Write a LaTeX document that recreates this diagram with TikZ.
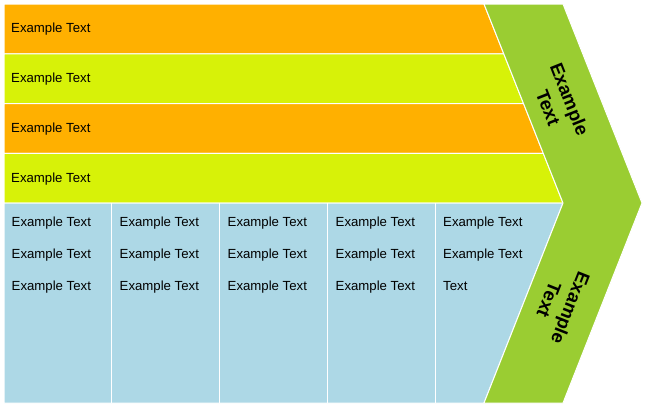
\documentclass[tikz,border=0pt]{standalone}
\usepackage{fontspec}
\setmainfont{Liberation Sans}
\definecolor{orangefill}{RGB}{255,176,0}
\definecolor{limefill}{RGB}{215,242,8}
\definecolor{greenfill}{RGB}{154,205,50}
\definecolor{bluefill}{RGB}{173,216,230}
\begin{document}
\begin{tikzpicture}[x=1pt,y=-1pt]
\tikzset{
  txt/.style={font=\fontsize{13.2}{15}\selectfont, anchor=base west, inner sep=0pt, text=black},
  big/.style={font=\bfseries\fontsize{18.5}{23}\selectfont, align=center, inner sep=0pt, text=black},
  sep/.style={draw=white, line width=1pt},
}
\fill[white] (0,0) rectangle (646,407);
\useasboundingbox (0,0) rectangle (646,407);
% rows
\filldraw[fill=orangefill, sep] (4,4) -- (484,4) -- (503.75,53.75) -- (4,53.75) -- cycle;
\filldraw[fill=limefill, sep] (4,53.75) -- (503.75,53.75) -- (523.5,103.5) -- (4,103.5) -- cycle;
\filldraw[fill=orangefill, sep] (4,103.5) -- (523.5,103.5) -- (543.25,153.25) -- (4,153.25) -- cycle;
\filldraw[fill=limefill, sep] (4,153.25) -- (543.25,153.25) -- (563,203) -- (4,203) -- cycle;
% bottom table
\filldraw[fill=bluefill, sep] (4,203) -- (563,203) -- (484,403) -- (4,403) -- cycle;
\foreach \x in {111.5,219.5,327.5,435.5}
  \draw[sep] (\x,203) -- (\x,403);
% chevron
\filldraw[fill=greenfill, sep] (484,4) -- (563,4) -- (642,203) -- (563,403) -- (484,403) -- (563,203) -- cycle;
% row texts
\node[txt] (r1) at (11,32.3) {Example Text};
\node[txt] (r2) at (11,82.3) {Example Text};
\node[txt] (r3) at (11,132.3) {Example Text};
\node[txt] (r4) at (11,182.3) {Example Text};
% table texts
\foreach \x [count=\i] in {11.5,119.5,227.5,335.5,443} {
  \node[txt] (a\i) at (\x,226) {Example Text};
  \node[txt] (b\i) at (\x,258) {Example Text};
}
\foreach \x [count=\i] in {11.5,119.5,227.5,335.5}
  \node[txt] (c\i) at (\x,290) {Example Text};
\node[txt] (c5) at (443,290) {Text};
% chevron texts
\node[big, rotate=-68.35] (t1) at (559,103.5) {Example\\Text};
\node[big, rotate=-111.55] (t2) at (560,304) {Example\\Text};
\end{tikzpicture}
\end{document}
